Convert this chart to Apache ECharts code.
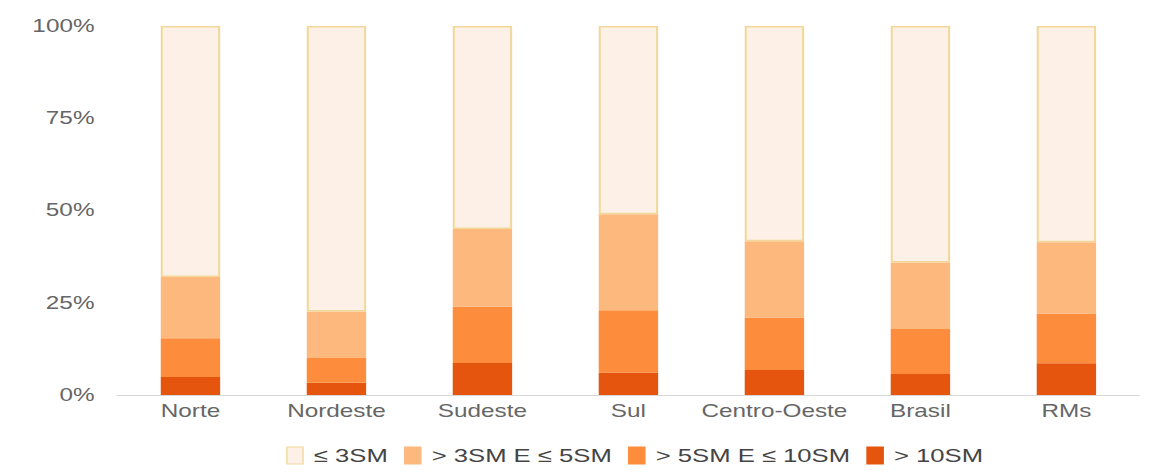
<!DOCTYPE html>
<html>
<head>
<meta charset="utf-8">
<script src="https://cdn.jsdelivr.net/npm/echarts@6/dist/echarts.min.js"></script>
<style>
  html, body { margin: 0; padding: 0; background: #fff; overflow: hidden; }
  /* the chart is laid out narrower and widened horizontally, giving the broad lettering */
  #chart { width: 863px; height: 473px; transform: scaleX(1.35); transform-origin: 0 0; }
</style>
</head>
<body>
<div id="chart"></div>
<script>
// Regiões e faixas de renda (salários mínimos), em % do total
const categories = ['Norte', 'Nordeste', 'Sudeste', 'Sul', 'Centro-Oeste', 'Brasil', 'RMs'];
const seriesNames = ['≤ 3SM', '> 3SM E ≤ 5SM', '> 5SM E ≤ 10SM', '> 10SM'];
const ate3SM    = [68.0, 77.4, 55.0, 51.0, 58.3, 64.1, 58.6];
const de3a5SM   = [16.6, 12.6, 21.1, 26.0, 20.7, 18.0, 19.3];
const de5a10SM  = [10.5,  6.7, 15.2, 17.0, 14.2, 12.2, 13.5];
const acima10SM = [ 4.9,  3.3,  8.7,  6.0,  6.8,  5.7,  8.6];
const yTicks = [0, 25, 50, 75, 100];

const colors  = ['#FDF0E6', '#FDB97D', '#FD8D3C', '#E6550D'];
const borders = ['#F2D79A', '#FDB97D', '#FD8D3C', '#E6550D'];
const font = 'Liberation Sans, Arial, sans-serif';

// empilhamento de baixo para cima: > 10SM na base
const stackOrder = [
  { data: acima10SM, i: 3 },
  { data: de5a10SM,  i: 2 },
  { data: de3a5SM,   i: 1 },
  { data: ate3SM,    i: 0 }
];

const chart = echarts.init(document.getElementById('chart'), null, { renderer: 'svg' });
chart.setOption({
  animation: false,
  grid: { left: 87, right: 19, top: 26, bottom: 78 },
  legend: {
    data: seriesNames.map((n, i) => ({
      name: n,
      itemStyle: { color: colors[i], borderColor: borders[i], borderWidth: 1 }
    })),
    left: 207,
    top: 441,
    itemWidth: 12,
    itemHeight: 17,
    itemGap: 12,
    icon: 'rect',
    textStyle: { fontFamily: font, fontSize: 19, color: '#444', padding: [0, 0, 0, 3] }
  },
  xAxis: {
    type: 'category',
    data: categories,
    axisLine: { show: true, lineStyle: { color: '#D8D8D8', width: 1 } },
    axisTick: { show: false },
    axisLabel: { interval: 0, fontFamily: font, fontSize: 18, color: '#666', margin: 7 }
  },
  yAxis: {
    type: 'value',
    min: 0,
    max: 100,
    interval: 25,
    axisLine: { show: false },
    axisTick: { show: false },
    splitLine: { show: false },
    axisLabel: {
      fontFamily: font, fontSize: 18, color: '#666', margin: 17,
      formatter: v => (yTicks.includes(v) ? v + '%' : '')
    }
  },
  series: stackOrder.map(s => ({
    name: seriesNames[s.i],
    type: 'bar',
    stack: 'renda',
    barWidth: 44,
    data: s.data,
    itemStyle: {
      color: colors[s.i],
      borderColor: borders[s.i],
      borderWidth: s.i === 0 ? 1.5 : 0
    }
  }))
});
</script>
</body>
</html>
